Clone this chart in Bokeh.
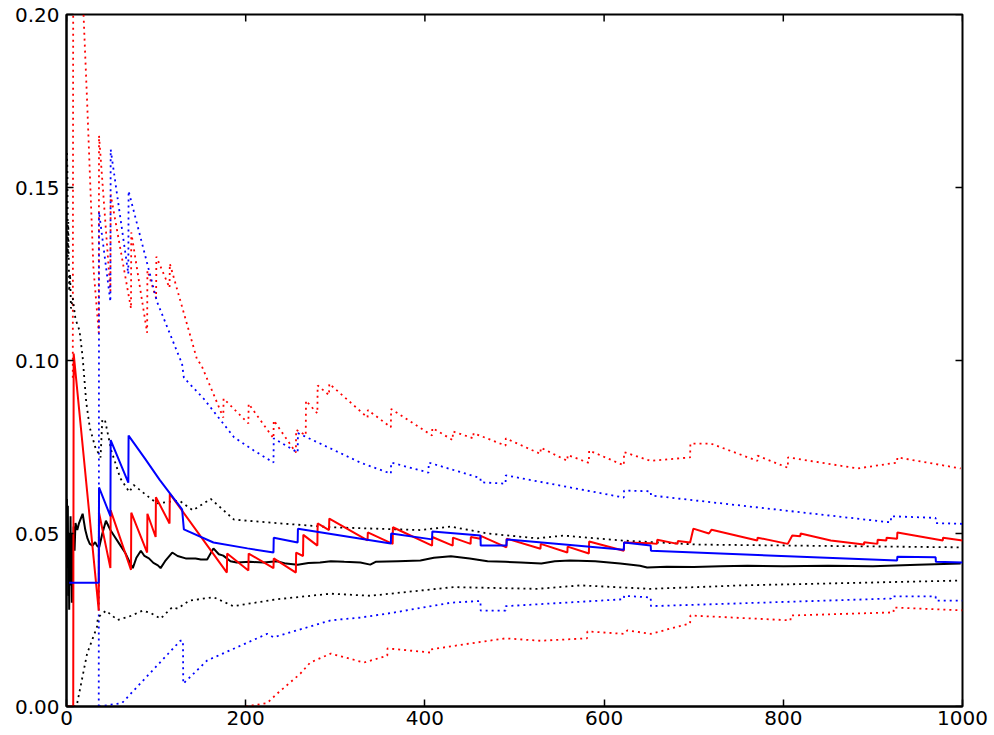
from bokeh.plotting import figure
from bokeh.models import Range1d, LinearAxis, FixedTicker, NumeralTickFormatter
from bokeh.embed import file_html
from bokeh.resources import INLINE

# ---------------- data ----------------
black_x = [0.5, 1, 1.5, 2, 2.5, 3, 3.5, 4, 4.5, 5, 5.5, 6, 6.5, 7, 8, 9, 10, 12, 14, 18, 21, 23.5, 26, 29,
           32, 34, 36.5, 40, 44, 49, 54, 59, 66, 70, 74, 78, 83, 87, 92, 97, 102, 105, 110, 118, 124, 133,
           144, 150, 157, 164, 170, 175, 183, 190, 205, 220, 235, 245, 258, 270, 283, 295, 310,
           328, 339, 345, 370, 395, 410, 429, 450, 470, 490, 507, 530, 545, 562, 590, 618, 640, 648, 670,
           700, 730, 760, 800, 850, 900, 950, 998]
black_y = [0.060, 0.040, 0.058, 0.032, 0.050, 0.028, 0.045, 0.036, 0.055, 0.035, 0.048, 0.030, 0.050, 0.042,
           0.052, 0.045, 0.053, 0.051, 0.053, 0.0557, 0.051, 0.0485, 0.047, 0.0465, 0.0475, 0.0465, 0.046,
           0.050, 0.0537, 0.051, 0.049, 0.047, 0.0442, 0.042, 0.040, 0.043, 0.045, 0.0435, 0.0428, 0.0415,
           0.0408, 0.040, 0.042, 0.0445, 0.0435, 0.0428, 0.0428, 0.0425, 0.0425, 0.0457,
           0.044, 0.0436, 0.042, 0.0416, 0.0418, 0.0416, 0.042, 0.0413, 0.041, 0.0415, 0.0416, 0.042, 0.0418,
           0.0416, 0.041, 0.0418, 0.042, 0.0422, 0.043, 0.0434, 0.0428, 0.042, 0.0418, 0.0416, 0.0413,
           0.042, 0.0422, 0.042, 0.0413, 0.0407, 0.0402, 0.0404, 0.0403, 0.0405, 0.0407, 0.0405, 0.0407,
           0.0405, 0.041, 0.0413]

black_hi_x = [0.5, 1, 1.5, 2, 3, 4, 5, 7, 10, 14.5, 18, 22, 26, 32, 38, 40, 43, 50, 60, 70, 75, 92, 101,
              126, 141, 161, 187, 235, 295, 395, 429, 470, 525, 555, 618, 704, 998]
black_hi_y = [0.160, 0.155, 0.130, 0.140, 0.120, 0.125, 0.115, 0.118, 0.112, 0.1087, 0.101, 0.088, 0.0806,
              0.075, 0.072, 0.083, 0.0827, 0.074, 0.066, 0.062, 0.064, 0.0605, 0.0587, 0.0595, 0.0567,
              0.060, 0.054, 0.053, 0.0518, 0.051, 0.052, 0.050, 0.0486, 0.0494, 0.048, 0.0468, 0.046]

black_lo_x = [1, 10, 12, 23, 34, 35, 44, 57, 70, 85, 94, 105, 118, 124, 137, 164, 186, 235, 295, 339, 432,
              525, 574, 652, 752, 998]
black_lo_y = [0.0, 0.0, 0.001, 0.0153, 0.023, 0.0257, 0.0277, 0.025, 0.026, 0.0277, 0.027, 0.0254, 0.0287,
              0.0283, 0.0306, 0.0316, 0.029, 0.031, 0.0326, 0.032, 0.0345, 0.034, 0.035, 0.034, 0.035, 0.0364]

blue_x = [3, 36, 36.3, 49, 49.3, 69, 69.3, 88, 104, 129, 131, 164, 202, 231, 231.3, 258, 258.3, 362, 362.3,
          408, 408.3, 462, 462.3, 491, 491.3, 622, 622.3, 652, 652.3, 927, 927.3, 970, 970.3, 1000]
blue_y = [0.0358, 0.0358, 0.0633, 0.055, 0.077, 0.0647, 0.0783, 0.0715, 0.0655, 0.057, 0.0512, 0.0474, 0.0457,
          0.0445, 0.0488, 0.0474, 0.0514, 0.0471, 0.050, 0.0483, 0.0506, 0.0494, 0.0465, 0.0465, 0.0483,
          0.0453, 0.0474, 0.0465, 0.045, 0.0422, 0.0433, 0.0431, 0.0418, 0.0416]

blue_hi_x = [36, 36.3, 49, 49.3, 69, 69.3, 101, 129, 131, 153, 187, 209, 231, 231.3, 258, 258.3, 283, 328,
             362, 362.3, 404, 404.3, 462, 462.3, 490, 490.3, 622, 622.3, 652, 652.3, 920, 920.3, 970,
             970.3, 1000]
blue_hi_y = [0.0, 0.143, 0.117, 0.161, 0.125, 0.149, 0.117, 0.099, 0.095, 0.089, 0.0778, 0.074, 0.0705,
             0.0775, 0.0734, 0.079, 0.076, 0.0705, 0.0673, 0.0705, 0.0676, 0.0705, 0.066, 0.0648, 0.0644,
             0.0668, 0.0604, 0.0624, 0.0622, 0.061, 0.0532, 0.055, 0.0545, 0.053, 0.0528]

blue_lo_x = [36, 62, 127, 130, 130.3, 157, 224, 231, 295, 328, 362, 429, 462, 462.3, 490, 490.3, 622, 622.3,
             652, 652.3, 920, 920.3, 970, 970.3, 1000]
blue_lo_y = [0.0, 0.001, 0.019, 0.019, 0.0066, 0.0133, 0.021, 0.020, 0.0249, 0.0257, 0.027, 0.030, 0.0305,
             0.0277, 0.0277, 0.029, 0.031, 0.032, 0.0315, 0.029, 0.0312, 0.0318, 0.0318, 0.0306, 0.0306]

red_x = [1, 7.5, 8, 36, 36.3, 49, 49.3, 72, 72.3, 90, 90.3, 99.5, 99.8, 115, 115.3, 179, 179.3, 203, 203.3,
         231, 231.3, 256, 256.3, 264, 264.3, 280, 280.3, 293, 293.3, 336, 336.3, 364, 364.3, 408, 408.3,
         431, 431.3, 451, 451.3, 462, 462.3, 491, 491.3, 529, 529.3, 559, 559.3, 583, 583.3, 622, 622.3,
         652, 659, 659.3, 682, 682.3, 696, 699.6, 717, 720, 771, 771.3, 805, 810, 819, 819.3, 853, 890,
         890.3, 905, 905.3, 915, 915.3, 927, 927.3, 978, 978.3, 1000]
red_y = [0.0, 0.0, 0.102, 0.0277, 0.056, 0.040, 0.0567, 0.0395, 0.056, 0.0445, 0.0557, 0.049, 0.0605, 0.0529,
         0.0615, 0.0387, 0.0442, 0.0393, 0.0442, 0.040, 0.0428, 0.0387, 0.0445, 0.0435, 0.0496,
         0.0465, 0.0529, 0.051, 0.0543, 0.048, 0.0503, 0.047, 0.0518, 0.0465, 0.049, 0.0465, 0.0488, 0.047,
         0.049, 0.0485, 0.0493, 0.046, 0.0485, 0.0456, 0.047, 0.0445, 0.0462, 0.0442, 0.0477, 0.045, 0.0474,
         0.0472, 0.047, 0.0482, 0.047, 0.0478, 0.0474, 0.0514, 0.050, 0.0511, 0.048, 0.0488, 0.047, 0.0494,
         0.0492, 0.050, 0.048, 0.0468, 0.0475, 0.047, 0.0482, 0.048, 0.0488, 0.0485, 0.0503, 0.048, 0.0488,
         0.048]

red_hi_x = [7, 8, 19, 23, 30, 36, 36.3, 49, 49.3, 72, 72.3, 90, 90.3, 100, 100.3, 115, 115.3, 146, 150, 175,
            175.3, 203, 203.3, 231, 231.3, 256, 256.3, 267, 267.3, 280, 280.3, 293, 293.3, 336, 336.3, 362,
            362.3, 408, 408.3, 431, 431.3, 454, 454.3, 490, 490.3, 529, 529.3, 559, 559.3, 583, 583.3, 622,
            622.3, 652, 696, 696.3, 719, 771, 771.3, 805, 805.3, 883, 927, 927.3, 998]
red_hi_y = [0.095, 0.320, 0.200, 0.175, 0.127, 0.108, 0.165, 0.120, 0.148, 0.115, 0.137, 0.108, 0.126, 0.118,
            0.130, 0.121, 0.128, 0.100, 0.099, 0.0835, 0.089, 0.0818, 0.0875, 0.0775, 0.0827, 0.0734, 0.080,
            0.0784, 0.0884, 0.0847, 0.0928, 0.090, 0.0933, 0.0835, 0.0857, 0.0807, 0.086, 0.0783, 0.0805,
            0.077, 0.0795, 0.0775, 0.079, 0.0754, 0.0775, 0.073, 0.0748, 0.071, 0.0727, 0.0704, 0.074, 0.0697,
            0.0735, 0.071, 0.072, 0.076, 0.076, 0.071, 0.0725, 0.069, 0.072, 0.0688, 0.0705, 0.072, 0.0688]

red_lo_x = [200, 224, 235, 261, 272, 295, 332, 358, 358.3, 406, 406.3, 458, 490, 529, 581, 581.3, 622, 626,
            652, 696, 696.3, 808, 808.3, 923, 923.3, 1000]
red_lo_y = [0.0, 0.001, 0.0037, 0.0095, 0.0127, 0.0153, 0.0127, 0.0147, 0.0168, 0.0156, 0.0165, 0.0185,
            0.0197, 0.019, 0.0197, 0.0217, 0.021, 0.022, 0.021, 0.024, 0.0263, 0.0249, 0.0263, 0.0272,
            0.0286, 0.0278]

x_ticks = [0, 200, 400, 600, 800, 1000]
y_ticks = [0.0, 0.05, 0.10, 0.15, 0.20]

# ---------------- figure ----------------
FONT = "DejaVu Sans"
FS = "20px"
X0, X1 = 0, 1000
Y0, Y1 = 0.0, 0.2
FW, FH = 896, 692
TICK_PX = 7

p = figure(frame_width=FW, frame_height=FH, output_backend="svg", toolbar_location=None,
           x_range=Range1d(X0, X1), y_range=Range1d(Y0, Y1),
           min_border_left=66, min_border_right=32, min_border_top=14, min_border_bottom=24,
           x_axis_location=None, y_axis_location=None)
p.background_fill_color = "white"
p.border_fill_color = "white"
p.grid.visible = False
p.outline_line_color = "black"
p.outline_line_width = 2


def style_axis(ax, ticks):
    ax.ticker = FixedTicker(ticks=ticks)
    ax.major_tick_in = TICK_PX
    ax.major_tick_out = 0
    ax.minor_tick_in = 0
    ax.minor_tick_out = 0
    ax.major_tick_line_color = "black"
    ax.major_tick_line_width = 1.5
    ax.axis_line_color = "black"
    ax.axis_line_width = 2
    ax.major_label_text_font = FONT
    ax.major_label_text_font_size = FS
    ax.major_label_text_color = "black"


xb = LinearAxis()
style_axis(xb, x_ticks)
xb.major_label_standoff = 4
yl = LinearAxis(formatter=NumeralTickFormatter(format="0.00"))
style_axis(yl, y_ticks)
yl.major_label_standoff = 7
p.add_layout(xb, "below")
p.add_layout(yl, "left")

# inward tick marks on the top and right spines (matplotlib style)
dy = (Y1 - Y0) / FH * TICK_PX
dx = (X1 - X0) / FW * TICK_PX
p.segment(x0=x_ticks, y0=[Y1] * len(x_ticks), x1=x_ticks, y1=[Y1 - dy] * len(x_ticks),
          line_color="black", line_width=1.5)
p.segment(x0=[X1] * len(y_ticks), y0=y_ticks, x1=[X1 - dx] * len(y_ticks), y1=y_ticks,
          line_color="black", line_width=1.5)

DOT = "2 4"
LW = 1.8
p.line(red_lo_x, red_lo_y, line_color="red", line_width=LW, line_dash=DOT)
p.line(red_hi_x, red_hi_y, line_color="red", line_width=LW, line_dash=DOT)
p.line(blue_lo_x, blue_lo_y, line_color="blue", line_width=LW, line_dash=DOT)
p.line(blue_hi_x, blue_hi_y, line_color="blue", line_width=LW, line_dash=DOT)
p.line(black_lo_x, black_lo_y, line_color="black", line_width=LW, line_dash=DOT)
p.line(black_hi_x, black_hi_y, line_color="black", line_width=LW, line_dash=DOT)
p.line(black_x, black_y, line_color="black", line_width=2)
p.line(red_x, red_y, line_color="red", line_width=2)
p.line(blue_x, blue_y, line_color="blue", line_width=2)

open("out.html", "w").write(file_html(p, INLINE))
